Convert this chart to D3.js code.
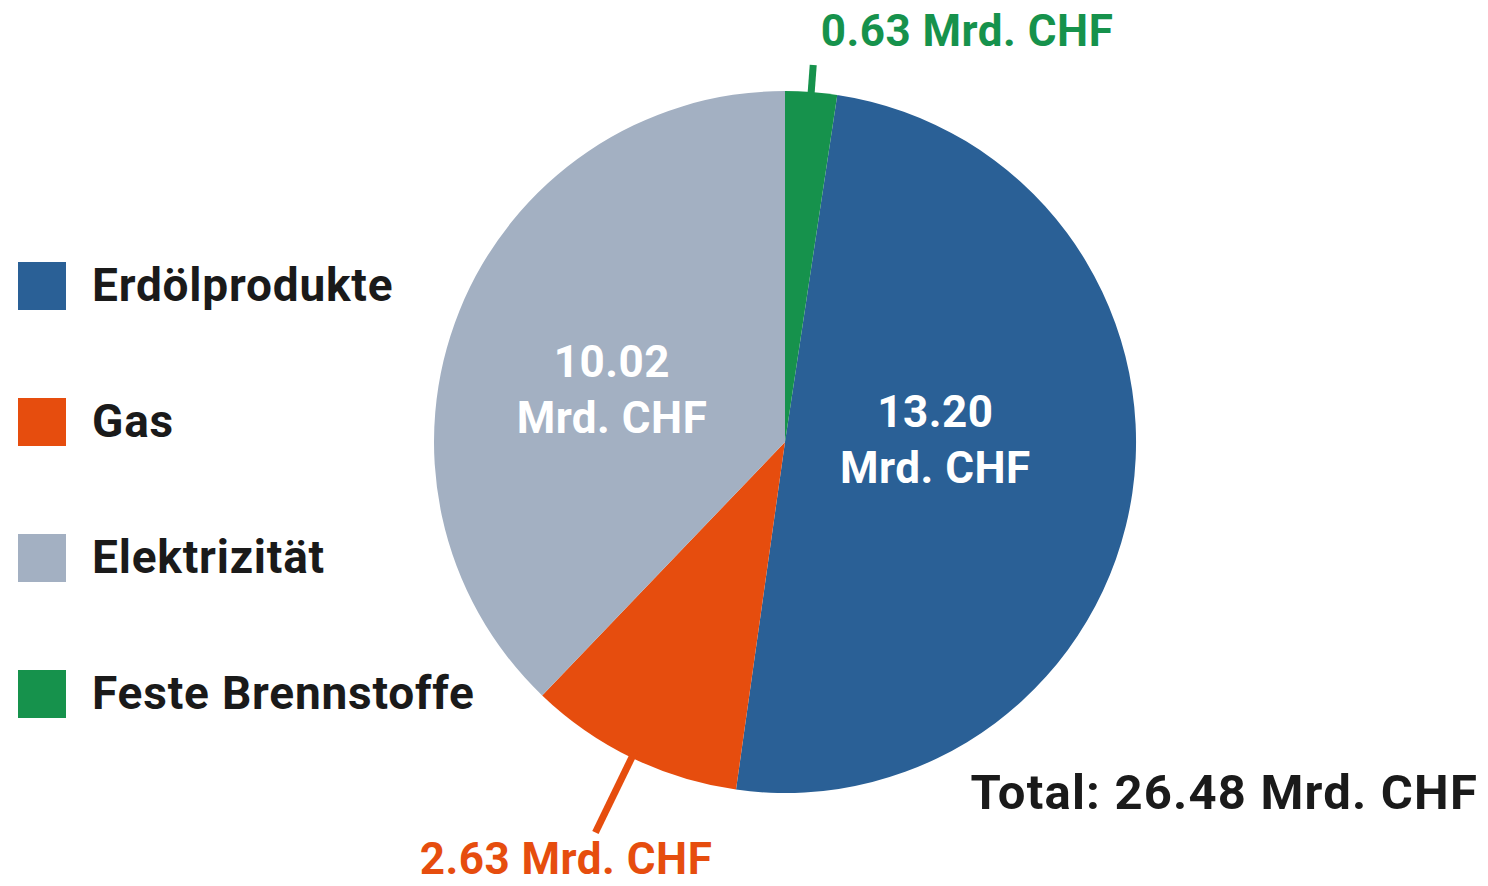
<!DOCTYPE html>
<html lang="de">
<head>
<meta charset="UTF-8">
<title>Energieausgaben</title>
<script src="https://cdn.jsdelivr.net/npm/d3@7"></script>
<style>
	body { margin: 0; background: #fff; }
	text { font-family: Roboto, "Open Sans", sans-serif; font-weight: 700; }
</style>
</head>
<body>
<svg id="chart" width="1488" height="886"></svg>
<script>
	// data (legend order)
	var categories = ["Erdölprodukte", "Gas", "Elektrizität", "Feste Brennstoffe"];
	var values = [13.20, 2.63, 10.02, 0.63];
	var colors = ["#2a6096", "#e64d0e", "#a3b0c2", "#16924c"];
	var total = 26.48;

	var svg = d3.select("#chart");
	var cx = 785, cy = 442, radius = 351;

	// Feste Brennstoffe sits first at 12 o'clock, the rest follow clockwise
	var start = 2 * Math.PI * values[3] / d3.sum(values);
	var pie = d3.pie().sort(null).value(d => d).startAngle(start).endAngle(start + 2 * Math.PI);
	var arcs = pie(values);

	var arc = d3.arc().innerRadius(0).outerRadius(radius);
	var g = svg.append("g").attr("transform", `translate(${cx},${cy})`);

	g.selectAll("path.slice")
		.data(arcs)
		.enter()
		.append("path")
		.attr("class", "slice")
		.attr("d", arc)
		.attr("fill", (d, i) => colors[i]);

	var fmt = d3.format(".2f");
	var mid = d => (d.startAngle + d.endAngle) / 2 - (d.startAngle + d.endAngle > 4 * Math.PI ? 2 * Math.PI : 0);
	var polar = (a, r) => [Math.sin(a) * r, -Math.cos(a) * r];

	// inside labels (Erdöl, Elektrizität)
	var inside = [{i: 0, r: 152, dx: 0, dy: -37}, {i: 2, r: 180, dx: -6, dy: 2}];
	inside.forEach(o => {
		var p = polar(mid(arcs[o.i]), o.r);
		var x = p[0] + o.dx;
		var t = g.append("text")
			.attr("x", x)
			.attr("y", p[1] + o.dy)
			.attr("text-anchor", "middle")
			.attr("fill", "#fff")
			.attr("font-size", 44)
			.attr("letter-spacing", 0.5);
		t.append("tspan").attr("x", x).attr("dy", 0).text(fmt(values[o.i]));
		t.append("tspan").attr("x", x).attr("dy", 56).text("Mrd. CHF");
	});

	// outside labels with leader lines (Gas, Feste Brennstoffe)
	var outside = [{i: 3, r0: 344, r1: 378, anchor: [967, 46]}, {i: 1, r0: 344, r1: 434, anchor: [566, 874]}];
	outside.forEach(o => {
		var a = mid(arcs[o.i]);
		var p0 = polar(a, o.r0), p1 = polar(a, o.r1);
		g.append("line")
			.attr("x1", p0[0]).attr("y1", p0[1])
			.attr("x2", p1[0]).attr("y2", p1[1])
			.attr("stroke", colors[o.i])
			.attr("stroke-width", 7);
		svg.append("text")
			.attr("x", o.anchor[0])
			.attr("y", o.anchor[1])
			.attr("text-anchor", "middle")
			.attr("fill", colors[o.i])
			.attr("font-size", 44)
			.attr("letter-spacing", 0.5)
			.text(fmt(values[o.i]) + " Mrd. CHF");
	});

	// legend
	var legend = svg.selectAll("g.legend")
		.data(categories)
		.enter()
		.append("g")
		.attr("class", "legend")
		.attr("transform", (d, i) => `translate(18,${262 + i * 136})`);

	legend.append("rect")
		.attr("width", 48)
		.attr("height", 48)
		.attr("fill", (d, i) => colors[i]);

	legend.append("text")
		.attr("x", 74)
		.attr("y", 39)
		.attr("fill", "#1a1a1a")
		.attr("font-size", 46)
		.attr("letter-spacing", 0.8)
		.text(d => d);

	svg.append("text")
		.attr("x", 1478)
		.attr("y", 809)
		.attr("text-anchor", "end")
		.attr("fill", "#1a1a1a")
		.attr("font-size", 49)
		.attr("letter-spacing", 1.2)
		.text("Total: " + fmt(total) + " Mrd. CHF");
</script>
</body>
</html>
